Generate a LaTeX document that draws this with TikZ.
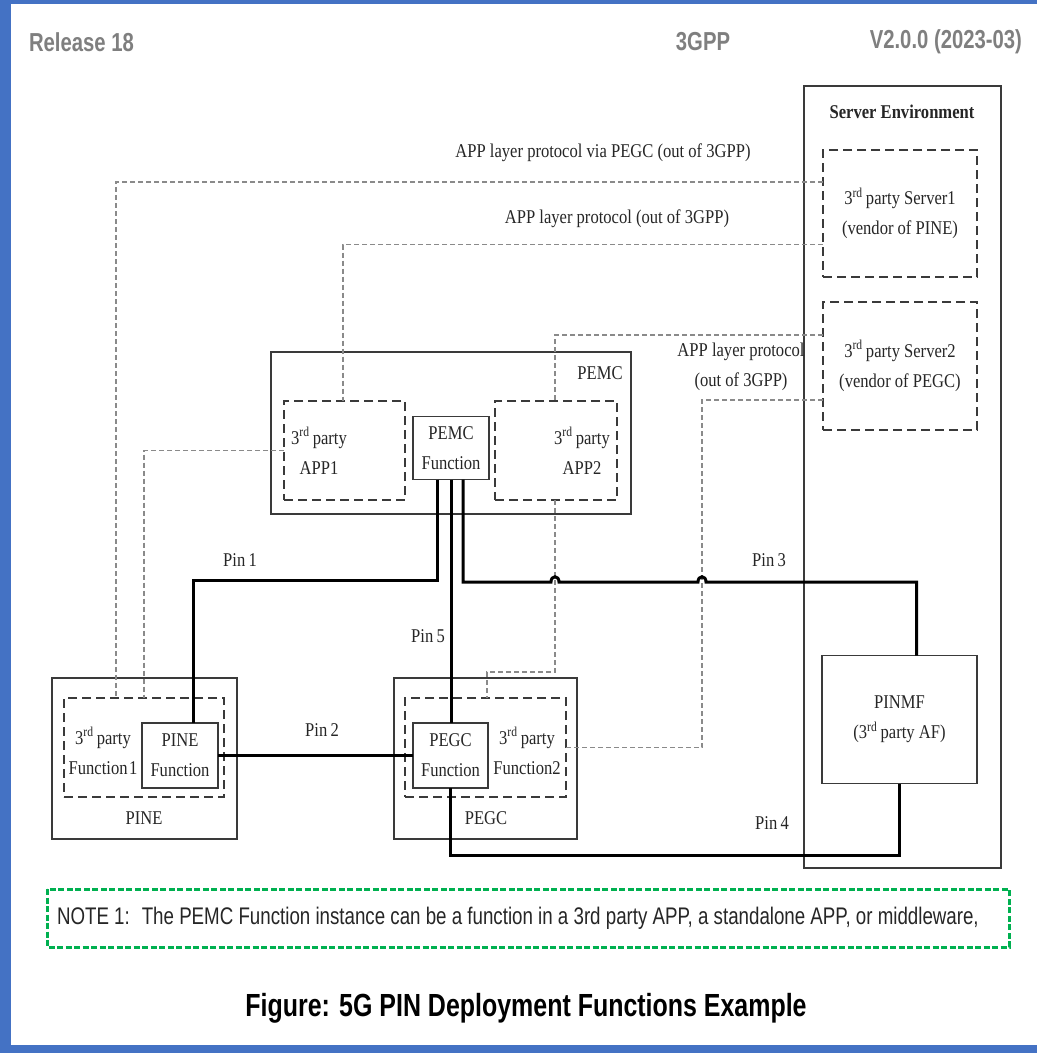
\documentclass[tikz,border=0pt]{standalone}
\usepackage{fontspec}
\newfontfamily\dgfont[FakeStretch=0.85]{Liberation Serif}
\newfontfamily\hdfont[FakeStretch=0.78]{Liberation Sans}
\newfontfamily\ntfont[FakeStretch=0.78]{Liberation Sans}
\usetikzlibrary{calc}
\definecolor{frameblue}{HTML}{4472C4}
\definecolor{notegreen}{HTML}{00B050}
\definecolor{hdgray}{HTML}{7F7F7F}
\definecolor{boxline}{HTML}{3A3A3A}
\definecolor{protogray}{HTML}{8A8A8A}
\newcommand{\rd}{3\textsuperscript{rd}\,}
\begin{document}
\begin{tikzpicture}[x=1pt,y=-1pt,
  every node/.style={inner sep=0pt, outer sep=0pt, text=black!85,
     font=\dgfont\fontsize{19.5}{30}\selectfont, align=center},
  solidbox/.style={draw=boxline, line width=1.4pt},
  dashbox/.style={draw=boxline, line width=2pt, dash pattern=on 9pt off 5pt},
  proto/.style={draw=protogray, line width=1.3pt, dash pattern=on 5pt off 3pt},
  pinline/.style={draw=black, line width=3pt},
  hdr/.style={font=\hdfont\bfseries\fontsize{26}{28}\selectfont, text=hdgray},
]
% background frame
\fill[frameblue] (0,0) rectangle (1037,1053);
\fill[white] (11,4) rectangle (1037,1045);
\useasboundingbox (0,0) rectangle (1037,1053);

% header
\node[hdr, anchor=west] (rel) at (29,42) {Release 18};
\node[hdr] (tgpp) at (703,42) {3GPP};
\node[hdr, anchor=east] (ver) at (1022,42) {V2.0.0 (2023-03)};

% server environment
\node[solidbox, minimum width=197pt, minimum height=782pt] (senv) at (902.5,477) {};
\node[font=\dgfont\bfseries\fontsize{19.5}{30}\selectfont] (senvt) at (902,112) {Server Environment};
\node[dashbox, minimum width=154pt, minimum height=127pt] (srv1) at (900,213.5) {\rd party Server1\\(vendor of PINE)};
\node[dashbox, minimum width=154pt, minimum height=128pt] (srv2) at (900,366) {\rd party Server2\\(vendor of PEGC)};
\node[solidbox, minimum width=155pt, minimum height=128pt] (pinmf) at (899.5,719.5) {PINMF\\(\rd party AF)};

% PEMC
\node[solidbox, minimum width=360pt, minimum height=162pt] (pemc) at (451,433) {};
\node (pemct) at (600,373) {PEMC};
\node[dashbox, minimum width=121pt, minimum height=99pt] (app1) at (344.5,450.5) {};
\node (app1t) at (319,451) {\rd party\\APP1};
\node[solidbox, minimum width=76pt, minimum height=63pt] (pemcf) at (451,448) {PEMC\\Function};
\node[dashbox, minimum width=122pt, minimum height=99pt] (app2) at (556,450.5) {};
\node (app2t) at (582,451) {\rd party\\APP2};

% PINE
\node[solidbox, minimum width=185pt, minimum height=161pt] (pine) at (144.5,758.5) {};
\node (pinet) at (144,818) {PINE};
\node[dashbox, minimum width=160pt, minimum height=99pt] (pined) at (144,747.5) {};
\node (f1t) at (103,751) {\rd party\\Function\kern1.5pt 1};
\node[solidbox, fill=white, minimum width=76pt, minimum height=65pt] (pinef) at (180,755.5) {PINE\\Function};

% PEGC
\node[solidbox, minimum width=183pt, minimum height=161pt] (pegc) at (485.5,758.5) {};
\node (pegct) at (486,818) {PEGC};
\node[dashbox, minimum width=161pt, minimum height=99pt] (pegcd) at (485.5,747.5) {};
\node (f2t) at (527,751) {\rd party\\Function2};
\node[solidbox, fill=white, minimum width=75pt, minimum height=65pt] (pegcf) at (450.5,755.5) {PEGC\\Function};

% protocol labels
\node (l1) at (603,153) {APP layer protocol via PEGC (out of 3GPP)};
\node (l2) at (617,219) {APP layer protocol (out of 3GPP)};
\node (l3) at (741,367) {APP layer protocol\\(out of 3GPP)};

% helper coordinates
\coordinate (x116) at (116,0);
\coordinate (x144) at (144,0);
\coordinate (x343) at (343,0);
\coordinate (x555) at (555,0);
\coordinate (x487) at (487,0);
\coordinate (x702) at (702,0);
\coordinate (y672) at (0,672);
\coordinate (y580) at (0,580);
\coordinate (y582) at (0,582);
\coordinate (y855) at (0,855);

% dashed protocol connectors
\draw[proto] ([yshift=31.5pt]srv1.west) -| (x116 |- pined.north);
\draw[proto] ([yshift=-31pt]srv1.west) -| (x343 |- app1.north);
\draw[proto] ([yshift=31pt]srv2.west) -| (x555 |- app2.north);
\draw[proto] (x555 |- app2.south) -- (x555 |- y672) -- (x487 |- y672) -- (x487 |- pegcd.north);
\draw[proto] ([yshift=-34pt]srv2.west) -| (x702 |- pegcd.east) -- (pegcd.east);
\draw[proto] (app1.west) -| (x144 |- pined.north);

% pin connectors
\coordinate (pa) at ([xshift=-14pt]pemcf.south);
\coordinate (pb) at (pemcf.south);
\coordinate (pc) at ([xshift=12pt]pemcf.south);
\coordinate (pd) at ([xshift=13pt]pinef.north);
\coordinate (pe) at ([xshift=17pt]pinmf.north);
\coordinate (pf) at (pinmf.south);
\coordinate (b1) at (x555 |- y582);
\coordinate (b2) at (x702 |- y582);

\draw[pinline] (pa) -- (pa |- y580) -- (pd |- y580) -- (pd);
\draw[pinline] (pb) -- (pb |- pegcf.north);
\draw[pinline] (pc) -- (pc |- y582) -- ([xshift=-4pt]b1)
   .. controls ([xshift=-4pt,yshift=7pt]b1) and ([xshift=4pt,yshift=7pt]b1) .. ([xshift=4pt]b1)
   -- ([xshift=-4pt]b2)
   .. controls ([xshift=-4pt,yshift=7pt]b2) and ([xshift=4pt,yshift=7pt]b2) .. ([xshift=4pt]b2)
   -- (pe |- y582) -- (pe);
\draw[pinline] (pinef.east) -- (pegcf.west);
\draw[pinline] (pegcf.south) -- (pegcf.south |- y855) -- (pf |- y855) -- (pf);

% pin labels
\node (pin1) at (240,560) {Pin\,1};
\node (pin5) at (428,636) {Pin\,5};
\node (pin2) at (322,730) {Pin\,2};
\node (pin3) at (769,560) {Pin\,3};
\node (pin4) at (772,823) {Pin\,4};

% note
\draw[notegreen, line width=3pt, dash pattern=on 6pt off 2.5pt] (47,889) rectangle (1009,947);
\node[anchor=west, font=\ntfont\fontsize{24}{26}\selectfont, text=black!85] (note) at (57,918)
  {NOTE 1:\hspace{12pt}The PEMC Function instance can be a function in a 3rd party APP, a standalone APP, or middleware,};

% caption
\node[font=\hdfont\bfseries\fontsize{32}{34}\selectfont, text=black] (cap) at (526,1008)
  {Figure: 5G PIN Deployment Functions Example};
\end{tikzpicture}
\end{document}
